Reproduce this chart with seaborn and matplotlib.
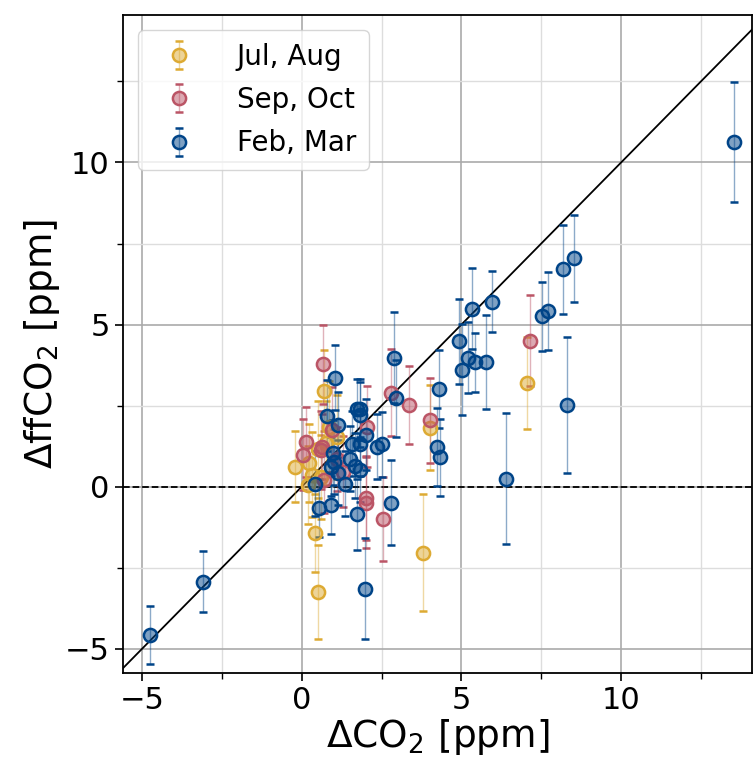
import matplotlib
matplotlib.use("Agg")
import matplotlib.pyplot as plt
from matplotlib.colors import to_rgba
from matplotlib.ticker import MultipleLocator
import numpy as np
import seaborn as sns

# Jul, Aug
jul_x = [-0.22, 0.22, 0.31, 0.69, 0.84, 1.09, 0.41, 0.50, 3.81, 4.00, 7.06, 0.19, 0.50, 0.60, 0.75]
jul_y = [0.62, 0.74, 0.37, 2.96, 1.85, 1.54, -1.42, -3.24, -2.04, 1.82, 3.21, 0.05, 1.15, 0.30, 1.35]
jul_e = [1.10, 1.20, 1.30, 1.24, 1.40, 1.30, 1.20, 1.45, 1.80, 1.30, 1.42, 1.20, 1.50, 1.30, 1.30]

# Sep, Oct
sep_x = [0.66, 0.12, 0.03, 0.59, 0.63, 0.94, 0.69, 1.28, 1.10, 2.03, 2.00, 2.00, 2.53, 2.80, 3.37, 4.03, 7.16]
sep_y = [3.77, 1.39, 0.99, 1.14, 1.23, 1.76, 0.19, 0.46, 0.85, 1.85, -0.34, -0.49, -0.99, 2.90, 2.53, 2.04, 4.50]
sep_e = [1.23, 1.08, 1.10, 1.20, 1.00, 1.30, 1.00, 1.10, 1.00, 1.25, 1.30, 1.40, 1.30, 1.35, 1.20, 1.30, 1.40]

# Feb, Mar
feb_x = [-4.75, -3.09, 13.53, 8.19, 8.53, 8.30, 7.53, 7.72, 5.97, 5.34, 4.91, 5.22, 5.44, 5.78,
         5.03, 4.31, 4.22, 4.34, 6.38, 2.88, 2.94, 1.03, 0.78, 1.13, 1.72, 1.81, 1.81, 2.00,
         1.56, 1.81, 2.34, 2.50, 0.97, 1.00, 0.90, 1.13, 1.50, 1.66, 1.81, 1.34, 0.41, 0.53,
         0.90, 2.78, 1.72, 1.97]
feb_y = [-4.57, -2.93, 10.62, 6.70, 7.04, 2.53, 5.25, 5.43, 5.71, 5.49, 4.48, 3.98, 3.83, 3.83,
         3.61, 3.02, 1.23, 0.90, 0.25, 3.98, 2.72, 3.36, 2.19, 1.91, 2.38, 2.38, 2.22, 1.60,
         1.33, 1.33, 1.23, 1.30, 1.05, 0.77, 0.62, 0.43, 0.86, 0.65, 0.52, 0.09, 0.09, -0.65,
         -0.56, -0.49, -0.86, -3.15]
feb_e = [0.90, 0.95, 1.85, 1.37, 1.35, 2.10, 1.07, 1.20, 0.95, 1.25, 1.30, 1.10, 0.90, 1.45,
         1.40, 1.20, 1.20, 1.20, 2.03, 1.40, 1.20, 1.00, 1.10, 1.00, 0.95, 0.95, 1.00, 1.10,
         1.00, 1.00, 1.00, 1.00, 1.00, 1.00, 0.90, 1.00, 1.00, 1.00, 1.00, 1.00, 1.00, 0.90,
         0.90, 1.30, 1.10, 1.55]

labels = ["Jul, Aug", "Sep, Oct", "Feb, Mar"]
colors = ["#DDAA33", "#BB5566", "#004488"]

sns.set_theme(style="white")
plt.rcParams["font.family"] = ["DejaVu Sans"]
plt.rcParams["text.color"] = "black"

fig = plt.figure(figsize=(7.53, 7.64), dpi=100)
ax = fig.add_axes([123 / 753, 1 - 673 / 764, 629 / 753, 658 / 764])

groups = [(jul_x, jul_y, jul_e), (sep_x, sep_y, sep_e), (feb_x, feb_y, feb_e)]
for (x, y, e), lab, c in zip(groups, labels, colors):
    cont = ax.errorbar(x, y, yerr=e, fmt="o", color=c, ms=9.5, mfc=to_rgba(c, 0.5), mec=c,
                       mew=1.8, ecolor=c, elinewidth=1, capsize=3, capthick=2,
                       label=lab, zorder=3)
    for bl in cont[2]:
        bl.set_alpha(0.45)

lims = np.array([-6, 15])
ax.plot(lims, lims, color="black", lw=1.3, zorder=2)
ax.axhline(0, color="black", ls="--", lw=1.3, zorder=2)

ax.set_xlim(-5.6, 14.1)
ax.set_ylim(-5.75, 14.55)
ax.xaxis.set_major_locator(MultipleLocator(5))
ax.yaxis.set_major_locator(MultipleLocator(5))
ax.xaxis.set_minor_locator(MultipleLocator(2.5))
ax.yaxis.set_minor_locator(MultipleLocator(2.5))
ax.grid(which="major", color="#aaaaaa", lw=1.2)
ax.grid(which="minor", color="#dddddd", lw=1.0)
ax.set_axisbelow(True)
ax.tick_params(which="major", direction="out", length=6, width=1.2, labelsize=22,
               bottom=True, left=True, color="black", labelcolor="black")
ax.tick_params(which="minor", direction="out", length=4, width=1.0,
               bottom=True, left=True, color="black")
for s in ax.spines.values():
    s.set_color("black")
    s.set_linewidth(1.3)

ax.set_xlabel(r"$\Delta$CO$_2$ [ppm]", fontsize=27, labelpad=1, color="black")
ax.set_ylabel(r"$\Delta$ffCO$_2$ [ppm]", fontsize=27, labelpad=2, color="black")

leg = ax.legend(loc="upper left", fontsize=20, frameon=True, framealpha=0.8,
                borderpad=0.45, handletextpad=1.1, labelspacing=0.55, handlelength=2.0,
                borderaxespad=0.55)
for t in leg.get_texts():
    t.set_color("black")

fig.savefig("out.png", dpi=100)
